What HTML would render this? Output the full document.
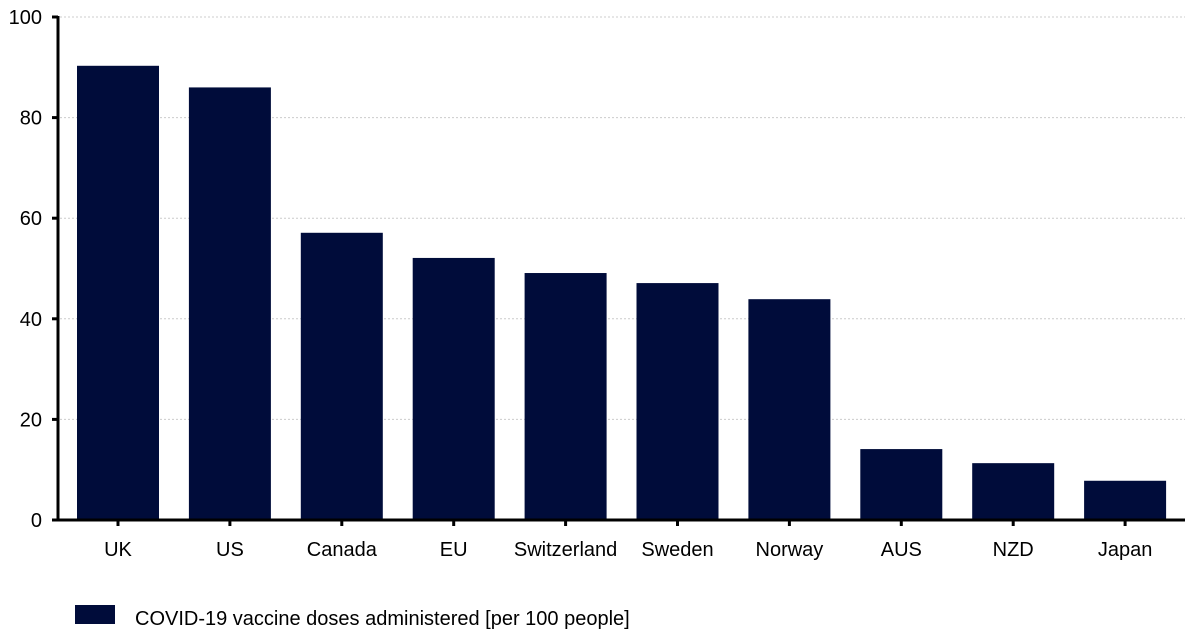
<!DOCTYPE html>
<html><head><meta charset="utf-8"><style>
body{margin:0;background:#fff;font-family:"Liberation Sans",sans-serif}
text{font-family:"Liberation Sans",sans-serif;fill:#000}
</style></head><body>
<svg width="1191" height="634">
<g id="grid"></g>
<g id="bars"></g>
<g id="axes"></g>
<g>
<rect x="75" y="605" width="40" height="19" fill="#000c3a"/>
<text x="135" y="625" font-size="20">COVID-19 vaccine doses administered [per 100 people]</text>
</g>
</svg>
<script>
const categories=["UK","US","Canada","EU","Switzerland","Sweden","Norway","AUS","NZD","Japan"];
const values=[90.3,86.0,57.1,52.1,49.1,47.1,43.9,14.1,11.3,7.8];
const yTicks=[0,20,40,60,80,100];
const NS="http://www.w3.org/2000/svg";
const y0=520,y1=17,ymax=100;
function y(v){return y0-(y0-y1)*v/ymax;}
function xc(i){return 118+i*111.9;}
function mk(t,a,p){const e=document.createElementNS(NS,t);for(const k in a)e.setAttribute(k,a[k]);p.appendChild(e);return e;}
const grid=document.getElementById('grid'),bars=document.getElementById('bars'),axes=document.getElementById('axes');
yTicks.forEach(t=>{
 if(t>0){const g=mk('line',{x1:60,x2:1185,y1:y(t),y2:y(t),stroke:'#ccc','stroke-dasharray':'2,2'},grid);
 
 }
 const tk=mk('line',{x1:52,x2:58,y1:y(t),y2:y(t),stroke:'#000','stroke-width':3},axes);
 
 
 const lb=mk('text',{x:42,y:y(t)+7,'text-anchor':'end','font-size':20},axes);
 lb.textContent=t;
 
 
});
categories.forEach((c,i)=>{
 const b=mk('rect',{x:xc(i)-41,y:y(values[i]),width:82,height:y0-y(values[i]),fill:'#000c3a'},bars);
 
 
 const tk=mk('line',{x1:xc(i),x2:xc(i),y1:520,y2:526,stroke:'#000','stroke-width':3},axes);
 
 
 const lb=mk('text',{x:xc(i),y:556,'text-anchor':'middle','font-size':20},axes);
 lb.textContent=c;
 
 
});
const ya=mk('line',{x1:58,x2:58,y1:16,y2:521.5,stroke:'#000','stroke-width':3},axes);


const xa=mk('line',{x1:53,x2:1185,y1:520,y2:520,stroke:'#000','stroke-width':3},axes);


</script>
</body></html>
